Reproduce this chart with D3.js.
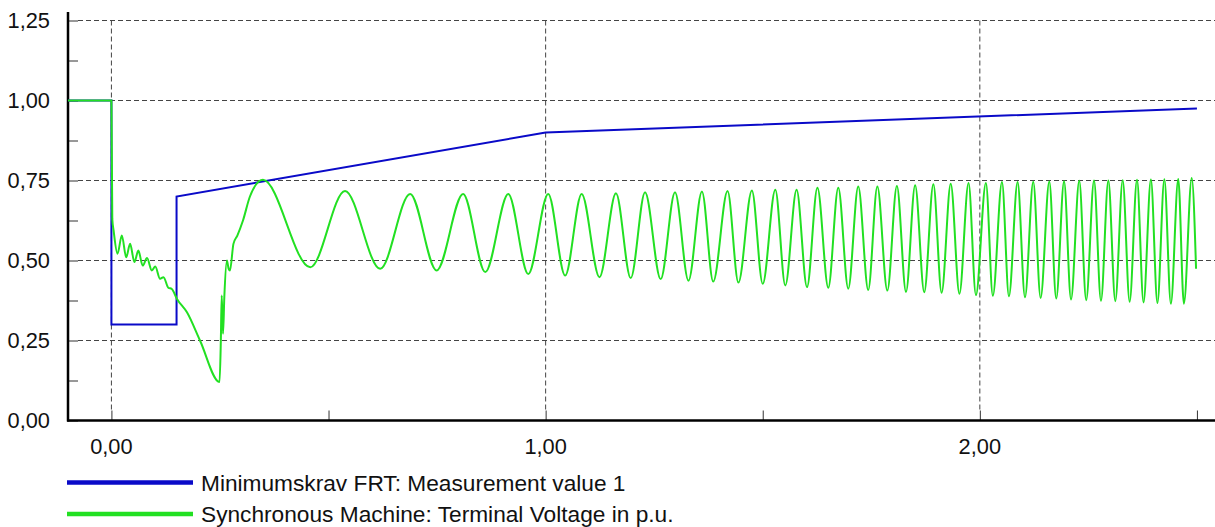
<!DOCTYPE html>
<html>
<head>
<meta charset="utf-8">
<script src="https://cdn.jsdelivr.net/npm/d3@7"></script>
<style>
body { margin: 0; background: #fff; }
svg { display: block; }
text { font-family: Arial, "Liberation Sans", sans-serif; fill: #111; }
</style>
</head>
<body>
<svg id="chart"></svg>
<script>
// axis ticks
var yTicks = [0, 0.25, 0.5, 0.75, 1.0, 1.25];
var yMinor = [0.125, 0.375, 0.625, 0.875, 1.125];
var xTicks = [0, 1, 2];
var xMinor = [0.5, 1.5, 2.5];

var seriesNames = [
    "Minimumskrav FRT: Measurement value 1",
    "Synchronous Machine: Terminal Voltage in p.u."
];

// FRT requirement curve
var frtT = [-0.1, 0, 0, 0.15, 0.15, 1.0, 2.5];
var frtV = [1.0, 1.0, 0.3, 0.3, 0.7, 0.9, 0.975];

// terminal voltage (fault ripple, then peaks / troughs)
var voltT = [-0.1, 0, 0.002, 0.005, 0.014, 0.024, 0.034, 0.043, 0.053, 0.062, 0.072, 0.082,
    0.093, 0.101, 0.112, 0.120, 0.131, 0.139, 0.151, 0.174, 0.204, 0.249, 0.252, 0.254,
    0.257, 0.260, 0.266, 0.270, 0.273, 0.281, 0.290, 0.303, 0.319,
    0.349, 0.458, 0.538, 0.619, 0.688, 0.749, 0.810, 0.861, 0.914, 0.960,
    1.006, 1.045, 1.083, 1.124, 1.162, 1.196, 1.229, 1.265, 1.298, 1.329,
    1.360, 1.386, 1.419, 1.444, 1.475, 1.500, 1.529, 1.552, 1.578, 1.602,
    1.626, 1.651, 1.674, 1.697, 1.720, 1.743, 1.764, 1.787, 1.809, 1.830,
    1.851, 1.872, 1.893, 1.912, 1.933, 1.953, 1.974, 1.991, 2.014, 2.030,
    2.051, 2.067, 2.087, 2.104, 2.123, 2.140, 2.160, 2.176, 2.194, 2.210,
    2.229, 2.245, 2.263, 2.279, 2.296, 2.312, 2.329, 2.345, 2.362, 2.377,
    2.394, 2.409, 2.425, 2.440, 2.457, 2.470, 2.488, 2.498];
var voltV = [1.0, 1.0, 0.63, 0.594, 0.521, 0.578, 0.510, 0.552, 0.495, 0.531, 0.484, 0.508,
    0.469, 0.481, 0.443, 0.448, 0.415, 0.411, 0.380, 0.338, 0.250, 0.120, 0.250, 0.391,
    0.271, 0.385, 0.500, 0.474, 0.469, 0.552, 0.578, 0.625, 0.700,
    0.752, 0.479, 0.717, 0.474, 0.708, 0.469, 0.708, 0.464, 0.708, 0.458,
    0.708, 0.453, 0.708, 0.448, 0.710, 0.445, 0.713, 0.442, 0.713, 0.437,
    0.716, 0.434, 0.717, 0.431, 0.719, 0.427, 0.721, 0.422, 0.721, 0.417,
    0.727, 0.415, 0.727, 0.412, 0.731, 0.408, 0.731, 0.406, 0.733, 0.402,
    0.735, 0.401, 0.738, 0.399, 0.740, 0.396, 0.742, 0.392, 0.742, 0.390,
    0.745, 0.388, 0.745, 0.385, 0.746, 0.383, 0.747, 0.381, 0.748, 0.378,
    0.749, 0.376, 0.750, 0.374, 0.750, 0.373, 0.751, 0.371, 0.752, 0.369,
    0.753, 0.367, 0.754, 0.365, 0.755, 0.365, 0.758, 0.474];

var colors = ["#0a0ac8", "#22e022"];

var width = 1215, height = 527;
var svg = d3.select("#chart").attr("width", width).attr("height", height);

var x = d3.scaleLinear().domain([-0.1, 2.54]).range([68, 1214.3]);
var y = d3.scaleLinear().domain([0, 1.25]).range([420.5, 20.5]);

var fmt = function (d) { return d3.format(".2f")(d).replace(".", ","); };

// grid
svg.append("g")
    .selectAll("line")
    .data(yTicks.filter(function (d) { return d > 0; }))
    .enter().append("line")
    .attr("x1", x(-0.1) + 10).attr("x2", width)
    .attr("y1", function (d) { return y(d); }).attr("y2", function (d) { return y(d); })
    .attr("stroke", "#444").attr("stroke-dasharray", "5,3");

svg.append("g")
    .selectAll("line")
    .data(xTicks)
    .enter().append("line")
    .attr("x1", function (d) { return x(d); }).attr("x2", function (d) { return x(d); })
    .attr("y1", y(1.25)).attr("y2", y(0) - 10)
    .attr("stroke", "#444").attr("stroke-dasharray", "5,3");

// y axis
var yAxis = svg.append("g")
    .attr("transform", "translate(" + x(-0.1) + ",0)")
    .call(d3.axisRight(y).tickValues(yTicks.concat(yMinor)).tickSize(10).tickFormat(""));
yAxis.select(".domain").remove();
yAxis.selectAll(".tick line").attr("stroke", "#333");

svg.append("g")
    .selectAll("text")
    .data(yTicks)
    .enter().append("text")
    .attr("x", 50)
    .attr("y", function (d) { return y(d) + 7.8; })
    .attr("text-anchor", "end")
    .style("font-size", "21.8px")
    .text(fmt);

// x axis
var xAxis = svg.append("g")
    .attr("transform", "translate(0," + y(0) + ")")
    .call(d3.axisTop(x).tickValues(xTicks.concat(xMinor)).tickSize(10).tickFormat(""));
xAxis.select(".domain").remove();
xAxis.selectAll(".tick line").attr("stroke", "#333");

svg.append("g")
    .selectAll("text")
    .data(xTicks)
    .enter().append("text")
    .attr("x", function (d) { return x(d); })
    .attr("y", 454)
    .attr("text-anchor", "middle")
    .style("font-size", "21.8px")
    .text(fmt);

svg.append("line")
    .attr("x1", x(-0.1)).attr("x2", x(-0.1))
    .attr("y1", 12).attr("y2", y(0) + 1)
    .attr("stroke", "#000").attr("stroke-width", 2.5);
svg.append("line")
    .attr("x1", x(-0.1) - 1).attr("x2", width)
    .attr("y1", y(0)).attr("y2", y(0))
    .attr("stroke", "#000").attr("stroke-width", 2.5);

// series
var frtLine = d3.line()
    .x(function (d) { return x(frtT[d]); })
    .y(function (d) { return y(frtV[d]); });

svg.append("path")
    .datum(d3.range(frtT.length))
    .attr("d", frtLine)
    .attr("fill", "none")
    .attr("stroke", colors[0])
    .attr("stroke-width", 2);

var voltLine = d3.line()
    .curve(d3.curveMonotoneX)
    .x(function (d) { return x(voltT[d]); })
    .y(function (d) { return y(voltV[d]); });

svg.append("path")
    .datum(d3.range(voltT.length))
    .attr("d", voltLine)
    .attr("fill", "none")
    .attr("stroke", colors[1])
    .attr("stroke-width", 2);

// legend
var legend = svg.append("g")
    .selectAll("g")
    .data(seriesNames)
    .enter().append("g")
    .attr("transform", function (d, i) { return "translate(0," + (482.5 + i * 31.5) + ")"; });

legend.append("line")
    .attr("x1", 67).attr("x2", 193)
    .attr("stroke", function (d, i) { return colors[i]; })
    .attr("stroke-width", 4.5);

legend.append("text")
    .attr("x", 201)
    .attr("y", 8.2)
    .style("font-size", "22.7px")
    .text(function (d) { return d; });
</script>
</body>
</html>
